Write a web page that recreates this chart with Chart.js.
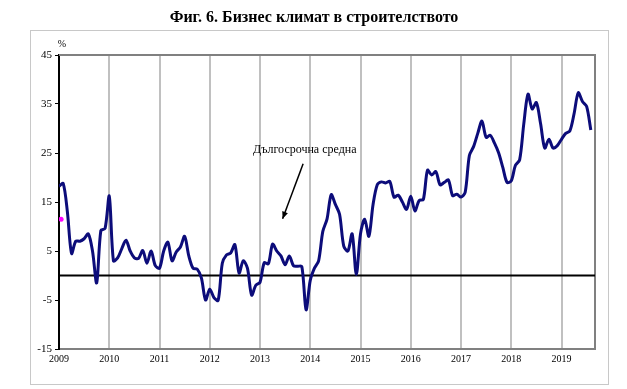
<!DOCTYPE html>
<html>
<head>
<meta charset="utf-8">
<script src="https://cdn.jsdelivr.net/npm/chart.js@4.4.1/dist/chart.umd.min.js"></script>
<style>
  html, body { margin: 0; padding: 0; background: #ffffff; }
  #wrap { position: relative; width: 627px; height: 389px; }
</style>
</head>
<body>
<div id="wrap"><canvas id="c" width="627" height="389"></canvas></div>
<script>
// ---- data ----
const chartTitle = "Фиг. 6. Бизнес климат в строителството";
const unitLabel = "%";
const years = ["2009","2010","2011","2012","2013","2014","2015","2016","2017","2018","2019"];
const yTicks = [-15, -5, 5, 15, 25, 35, 45];
// monthly values, Jan 2009 .. Aug 2019
const climate2009 = [18.2, 18.8, 13.0, 4.5, 7.0, 7.0, 7.5, 8.5, 5.0, -1.5, 9.2, 9.6];
const climate2010 = [16.2, 3.0, 3.6, 5.5, 7.2, 5.0, 3.6, 3.5, 5.1, 2.5, 5.0, 2.0];
const climate2011 = [1.5, 5.0, 6.8, 3.0, 4.8, 5.8, 8.0, 4.0, 1.5, 1.3, -0.5, -5.0];
const climate2012 = [-2.8, -4.5, -5.1, 2.5, 4.2, 4.6, 6.3, 0.5, 3.0, 1.5, -4.0, -2.0];
const climate2013 = [-1.4, 2.6, 2.4, 6.4, 5.0, 4.0, 2.2, 4.0, 2.0, 1.9, 1.8, -7.0];
const climate2014 = [-1.0, 1.5, 3.0, 9.0, 11.5, 16.5, 14.5, 12.5, 6.0, 5.0, 8.5, 0.2];
const climate2015 = [8.5, 11.5, 8.0, 14.5, 18.5, 19.1, 18.9, 19.2, 16.0, 16.4, 15.0, 13.5];
const climate2016 = [16.2, 13.2, 15.3, 15.5, 21.5, 20.5, 21.2, 18.5, 19.0, 19.5, 16.3, 16.6];
const climate2017 = [16.0, 17.0, 24.5, 26.3, 29.0, 31.5, 28.2, 28.6, 27.0, 25.0, 22.0, 19.0];
const climate2018 = [19.3, 22.5, 23.6, 31.0, 37.0, 34.0, 35.3, 31.0, 26.0, 27.8, 26.0, 26.5];
const climate2019 = [27.8, 29.0, 29.5, 33.0, 37.3, 35.5, 34.5, 29.7];
const climate = [].concat(climate2009, climate2010, climate2011, climate2012, climate2013,
  climate2014, climate2015, climate2016, climate2017, climate2018, climate2019);
const longTermMarker = [{ x: 0.5, y: 11.5 }];
const noteText = "Дългосрочна средна";
const note = { tx: 58.7, ty: 25.6, fromX: 58.3, fromY: 22.8, toX: 53.4, toY: 11.6 };

const seriesPoints = climate.map((v, i) => ({ x: i, y: v }));

const decor = {
  id: 'decor',
  beforeDraw(chart) {
    const ctx = chart.ctx;
    ctx.save();
    ctx.fillStyle = '#ffffff';
    ctx.fillRect(0, 0, chart.width, chart.height);
    ctx.strokeStyle = '#c8c8c8';
    ctx.lineWidth = 1;
    ctx.strokeRect(30.5, 30.5, 578, 354);
    ctx.restore();
  },
  beforeDatasetsDraw(chart) {
    const ctx = chart.ctx, a = chart.chartArea;
    const xs = chart.scales.x, ys = chart.scales.y;
    ctx.save();
    // top & right border
    ctx.strokeStyle = '#808080';
    ctx.lineWidth = 2;
    ctx.beginPath();
    ctx.moveTo(a.left, a.top);
    ctx.lineTo(a.right, a.top);
    ctx.lineTo(a.right, a.bottom);
    ctx.stroke();
    // zero line
    const y0 = ys.getPixelForValue(0);
    ctx.strokeStyle = '#000000';
    ctx.lineWidth = 2;
    ctx.beginPath();
    ctx.moveTo(a.left, y0);
    ctx.lineTo(a.right, y0);
    ctx.stroke();
    ctx.restore();
  },
  afterDraw(chart) {
    const ctx = chart.ctx, a = chart.chartArea;
    const xs = chart.scales.x, ys = chart.scales.y;
    ctx.save();
    ctx.fillStyle = '#000000';
    ctx.textAlign = 'center';
    ctx.textBaseline = 'middle';
    ctx.font = 'bold 16px "Liberation Serif", serif';
    ctx.fillText(chartTitle, 314, 18);
    ctx.font = '10px "Liberation Serif", serif';
    ctx.fillText(unitLabel, 62, 44);
    // annotation
    ctx.font = '12px "Liberation Serif", serif';
    ctx.fillText(noteText, xs.getPixelForValue(note.tx), ys.getPixelForValue(note.ty));
    const x1 = xs.getPixelForValue(note.fromX), y1 = ys.getPixelForValue(note.fromY);
    const x2 = xs.getPixelForValue(note.toX), y2 = ys.getPixelForValue(note.toY);
    ctx.strokeStyle = '#000000';
    ctx.lineWidth = 1.5;
    ctx.beginPath();
    ctx.moveTo(x1, y1);
    ctx.lineTo(x2, y2);
    ctx.stroke();
    const ang = Math.atan2(y2 - y1, x2 - x1);
    const L = 7, W = 3;
    ctx.beginPath();
    ctx.moveTo(x2, y2);
    ctx.lineTo(x2 - L * Math.cos(ang) + W * Math.sin(ang), y2 - L * Math.sin(ang) - W * Math.cos(ang));
    ctx.lineTo(x2 - L * Math.cos(ang) - W * Math.sin(ang), y2 - L * Math.sin(ang) + W * Math.cos(ang));
    ctx.closePath();
    ctx.fill();
    ctx.restore();
  }
};

new Chart(document.getElementById('c'), {
  type: 'line',
  data: {
    datasets: [
      {
        data: seriesPoints,
        borderColor: '#0c0c7a',
        borderWidth: 3,
        pointRadius: 0,
        tension: 0.3,
        fill: false,
        order: 1
      },
      {
        data: longTermMarker,
        showLine: false,
        pointRadius: 2.5,
        pointBackgroundColor: '#ff00ff',
        pointBorderColor: '#ff00ff',
        pointBorderWidth: 0,
        order: 2
      }
    ]
  },
  options: {
    responsive: false,
    animation: false,
    events: [],
    layout: { padding: { top: 55, right: 32, left: 0, bottom: 0 } },
    plugins: { legend: { display: false }, tooltip: { enabled: false }, title: { display: false } },
    scales: {
      x: {
        type: 'linear',
        min: 0,
        max: 128,
        afterFit(s) { s.height = 40; },
        afterBuildTicks(s) { s.ticks = years.map((y, i) => ({ value: i * 12 })); },
        ticks: {
          autoSkip: false,
          maxRotation: 0,
          padding: 4,
          color: '#000000',
          font: { family: '"Liberation Serif", serif', size: 10 },
          callback(v) { return years[Math.round(v / 12)]; }
        },
        grid: { color: '#c0c0c0', lineWidth: 2, drawTicks: false },
        border: { color: '#808080', width: 2 }
      },
      y: {
        min: -15,
        max: 45,
        afterFit(s) { s.width = 59; },
        afterBuildTicks(s) { s.ticks = yTicks.map(v => ({ value: v })); },
        ticks: {
          padding: 3,
          color: '#000000',
          font: { family: '"Liberation Serif", serif', size: 11 }
        },
        grid: { drawOnChartArea: false, drawTicks: true, tickLength: 4, color: '#000000', lineWidth: 1 },
        border: { color: '#000000', width: 2 }
      }
    }
  },
  plugins: [decor]
});
</script>
</body>
</html>
